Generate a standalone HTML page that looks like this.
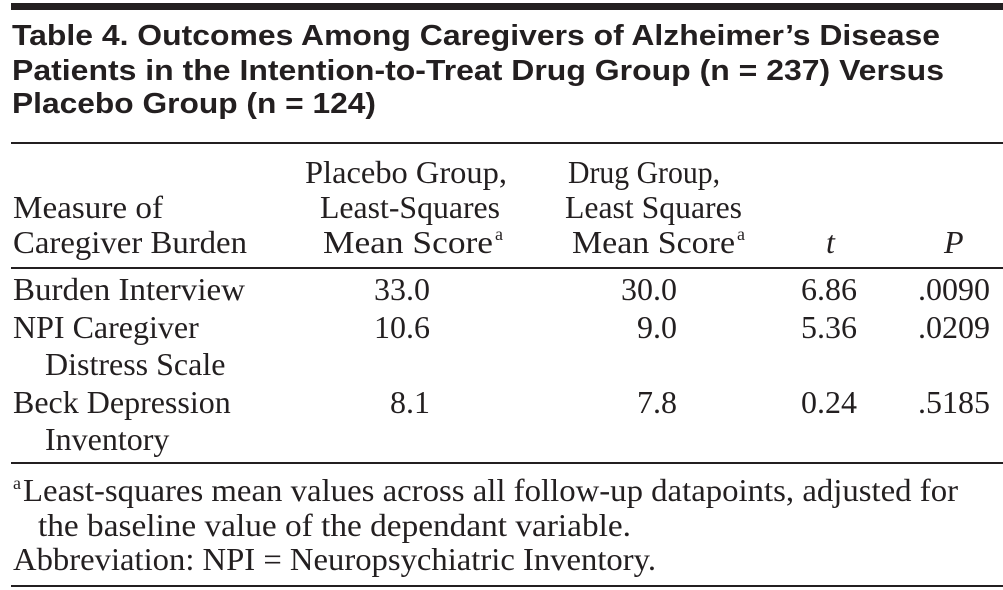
<!DOCTYPE html>
<html><head><meta charset="utf-8"><style>
html,body{margin:0;padding:0;background:#fff;}
svg{display:block;}
.t{font-family:"Liberation Sans",sans-serif;font-weight:bold;font-size:29px;fill:#231f20;}
.s{font-family:"Liberation Serif",serif;font-size:32px;fill:#231f20;}
.sup{font-family:"Liberation Serif",serif;font-size:18px;fill:#231f20;}
</style></head><body>
<svg width="1003" height="590" viewBox="0 0 1003 590">
<rect x="11" y="3" width="992" height="7" fill="#231f20"/>
<g>
<text class="t" x="12" y="45" textLength="928" lengthAdjust="spacingAndGlyphs">Table 4. Outcomes Among Caregivers of Alzheimer’s Disease</text>
<text class="t" x="12" y="80" textLength="932" lengthAdjust="spacingAndGlyphs">Patients in the Intention-to-Treat Drug Group (n = 237) Versus</text>
<text class="t" x="12" y="113" textLength="364" lengthAdjust="spacingAndGlyphs">Placebo Group (n = 124)</text>
</g>
<rect x="11" y="142" width="992" height="2" fill="#231f20"/>
<g>
<text class="s" x="13" y="218" textLength="150" lengthAdjust="spacingAndGlyphs">Measure of</text>
<text class="s" x="13" y="253" textLength="234" lengthAdjust="spacingAndGlyphs">Caregiver Burden</text>
<text class="s" x="305" y="183" textLength="202" lengthAdjust="spacingAndGlyphs">Placebo Group,</text>
<text class="s" x="320" y="218" textLength="180" lengthAdjust="spacingAndGlyphs">Least-Squares</text>
<text class="s" x="323" y="253" textLength="170" lengthAdjust="spacingAndGlyphs">Mean Score</text>
<text class="sup" x="495" y="240">a</text>
<text class="s" x="568" y="183" textLength="152" lengthAdjust="spacingAndGlyphs">Drug Group,</text>
<text class="s" x="565" y="218" textLength="177" lengthAdjust="spacingAndGlyphs">Least Squares</text>
<text class="s" x="572" y="253" textLength="163" lengthAdjust="spacingAndGlyphs">Mean Score</text>
<text class="sup" x="737" y="240">a</text>
<text class="s" x="826" y="253" font-style="italic">t</text>
<text class="s" x="944" y="253" font-style="italic">P</text>
</g>
<rect x="11" y="267" width="992" height="2" fill="#231f20"/>
<g>
<text class="s" x="13" y="300" textLength="232" lengthAdjust="spacingAndGlyphs">Burden Interview</text>
<text class="s" x="430" y="300" text-anchor="end">33.0</text>
<text class="s" x="677" y="300" text-anchor="end">30.0</text>
<text class="s" x="857" y="300" text-anchor="end">6.86</text>
<text class="s" x="990" y="300" text-anchor="end">.0090</text>
<text class="s" x="13" y="338">NPI Caregiver</text>
<text class="s" x="45" y="375">Distress Scale</text>
<text class="s" x="430" y="338" text-anchor="end">10.6</text>
<text class="s" x="677" y="338" text-anchor="end">9.0</text>
<text class="s" x="857" y="338" text-anchor="end">5.36</text>
<text class="s" x="990" y="338" text-anchor="end">.0209</text>
<text class="s" x="13" y="413">Beck Depression</text>
<text class="s" x="45" y="450">Inventory</text>
<text class="s" x="430" y="413" text-anchor="end">8.1</text>
<text class="s" x="677" y="413" text-anchor="end">7.8</text>
<text class="s" x="857" y="413" text-anchor="end">0.24</text>
<text class="s" x="990" y="413" text-anchor="end">.5185</text>
</g>
<rect x="11" y="462" width="992" height="2" fill="#231f20"/>
<g>
<text class="sup" x="13" y="489">a</text>
<text class="s" x="23" y="501" textLength="935" lengthAdjust="spacingAndGlyphs">Least-squares mean values across all follow-up datapoints, adjusted for</text>
<text class="s" x="38" y="536" textLength="593" lengthAdjust="spacingAndGlyphs">the baseline value of the dependant variable.</text>
<text class="s" x="13" y="570" textLength="643" lengthAdjust="spacingAndGlyphs">Abbreviation: NPI = Neuropsychiatric Inventory.</text>
</g>
<rect x="11" y="585" width="992" height="2" fill="#231f20"/>
</svg>
</body></html>
